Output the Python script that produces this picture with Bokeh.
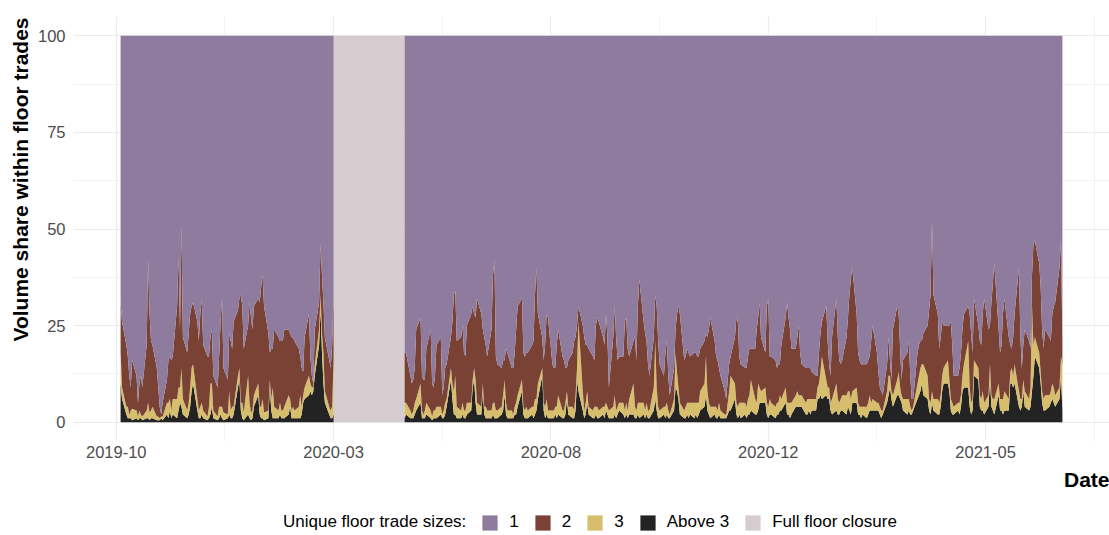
import numpy as np
import pandas as pd
from bokeh.plotting import figure
from bokeh.layouts import column
from bokeh.models import (ColumnDataSource, FixedTicker, DatetimeTickFormatter, Range1d,
                          Legend, LegendItem, Title)
from bokeh.embed import file_html
from bokeh.resources import INLINE

FONT = "Liberation Sans"

# ---------------- data ----------------
# floor trading days before the closure (business days from pre_start)
pre_start = "2019-10-10"
pre_above3 = [10, 6, 2, 1, 1, 1, 0.5, 1, 0.5, 1,
              1, 0.5, 1, 1, 0.5, 1, 1, 0.5, 0.5, 0.5,
              1, 0.5, 2, 1, 3, 1, 2, 1, 3, 5,
              4, 2, 1, 2, 4, 8, 10, 3, 1, 1,
              2, 1, 0.5, 1, 2, 4, 1, 0.5, 1, 2,
              1, 0.5, 1, 2, 1, 1, 2, 9, 11, 3,
              1, 0.5, 2, 1, 0.5, 1, 4, 7, 2, 1,
              1, 0.5, 1, 9, 3, 1, 1, 1, 2, 1,
              1, 1, 2, 4, 1, 1, 1, 1, 1, 2,
              5, 6, 7, 8, 7, 8, 12, 20, 29, 18,
              10, 5, 2, 1, 1, 2]
pre_three = [8, 3, 2, 3, 1, 2, 3, 2, 1, 2,
             1, 1, 2, 4, 2, 2, 3, 1, 1, 0.5,
             0.5, 1, 3, 4, 3, 2, 4, 5, 6, 4,
             10, 4, 2, 3, 5, 6, 5, 3, 2, 3,
             3, 2, 1, 3, 8, 6, 2, 1, 3, 2,
             3, 2, 1, 6, 2, 3, 2, 3, 3, 2,
             4, 2, 10, 4, 2, 2, 3, 3, 2, 3,
             5, 2, 2, 2, 3, 8, 3, 2, 3, 2,
             2, 3, 5, 2, 2, 3, 2, 3, 6, 2,
             2, 3, 5, 2, 2, 1, 3, 4, 4, 5,
             8, 3, 2, 2, 3, 14]
pre_two = [13, 17, 16, 13, 10, 6, 12.5, 9, 3.5, 7,
           10, 7.5, 17, 37, 25.5, 18, 16, 12.5, 7.5, 3,
           0.5, 3.5, 6, 11, 11, 13, 11, 24, 34, 15,
           37, 16, 15, 18, 19, 16, 16, 20, 18, 24,
           27, 17, 15.5, 13, 12, 14, 9, 7.5, 13, 22,
           28, 11.5, 9, 15, 18, 15, 22, 17, 18, 28,
           25, 16.5, 13, 26, 24.5, 21, 23, 22, 27, 31,
           32, 27.5, 20, 7, 13, 10, 20, 19, 16, 18,
           18, 20, 17, 17, 19, 18, 18, 15, 10, 10,
           6, 13, 16, 7, 3, 1, 9, 7, 13, 15,
           13, 14, 12, 11, 16, 17]

# floor trading days after the reopening
post_start = "2020-04-23"
post_above3 = [1, 2, 1, 1, 1, 2, 3, 5, 1, 1,
               1, 2, 1, 0.5, 1, 1, 1, 2, 1, 1,
               2, 4, 11, 6, 2, 2, 1, 1, 2, 1,
               1, 2, 3, 9, 11, 5, 2, 2, 8, 2,
               1, 1, 1, 2, 1, 1, 1, 2, 3, 7,
               2, 1, 1, 1, 2, 2, 4, 8, 2, 1,
               1, 1, 2, 1, 2, 3, 6, 12, 3, 1,
               2, 1, 1, 1, 2, 1, 2, 1, 1, 2,
               6, 2, 1, 1, 3, 11, 8, 3, 1, 2,
               5, 2, 1, 1, 2, 1, 1, 2, 1, 3,
               2, 1, 1, 2, 1, 2, 3, 2,
               1, 2, 1, 2, 2, 1, 1, 2, 1, 2,
               1, 2, 1, 1, 3, 6, 3, 1, 1, 2,
               1, 2, 1, 1, 3, 9, 8, 6, 2, 1,
               1, 2, 1, 2, 1, 2, 1, 2, 3, 4,
               7, 3, 2, 1, 2, 1, 1, 2, 1, 1,
               1, 2, 3, 3, 6, 2, 1, 2, 1, 2,
               1, 2, 2, 3, 2, 2, 3, 5, 5, 5,
               2, 1, 2, 2, 1, 2, 2, 3, 3, 5,
               2, 2, 1, 2, 4, 4, 4, 4, 4, 2,
               2, 3, 2, 3, 3, 6, 6, 7, 6, 7,
               6, 6, 3, 2, 3, 2, 2, 3,
               3, 2, 4, 3, 2, 5, 5, 2, 2, 1,
               2, 1, 2, 3, 3, 3, 3, 3, 2, 1,
               2, 5, 7, 9, 6, 4, 7, 7, 6, 5,
               3, 2, 3, 2, 2, 3, 6, 7, 8, 10,
               7, 6, 3, 2, 5, 3, 2, 2, 4, 8,
               10, 10, 8, 3, 2, 2, 3, 2, 4, 8,
               9, 9, 4, 2, 3, 12, 11, 4, 3, 3,
               2, 4, 11, 4, 3, 2, 7, 3, 3, 2,
               3, 3, 10, 10, 9, 10, 4, 3, 4, 8,
               4, 3, 4, 8, 12, 17, 14, 10, 5, 3,
               3, 4, 5, 6, 5, 4, 6, 12, 3]
post_three = [4, 3, 2, 1, 2, 3, 3, 5, 2, 1,
              2, 3, 2, 1, 2, 2, 3, 2, 1, 2,
              3, 2, 3, 4, 6, 10, 3, 2, 3, 2,
              2, 3, 2, 2, 3, 6, 3, 2, 2, 2,
              3, 2, 2, 3, 4, 2, 2, 2, 4, 4,
              3, 2, 2, 1, 2, 3, 3, 3, 2, 2,
              3, 2, 2, 3, 4, 3, 4, 2, 2, 3,
              4, 2, 2, 2, 2, 3, 5, 2, 2, 3,
              2, 2, 3, 2, 4, 3, 18, 5, 2, 3,
              3, 2, 2, 3, 2, 3, 2, 2, 3, 2,
              2, 2, 3, 5, 2, 2, 2, 3,
              2, 3, 2, 4, 8, 3, 2, 3, 4, 3,
              2, 3, 2, 2, 6, 15, 6, 3, 2, 2,
              3, 3, 2, 1, 3, 9, 5, 3, 3, 2,
              3, 3, 4, 3, 4, 3, 4, 3, 5, 6,
              10, 5, 3, 3, 2, 3, 2, 3, 2, 1,
              1, 3, 5, 9, 4, 3, 3, 3, 4, 3,
              3, 4, 5, 8, 4, 3, 7, 4, 3, 4,
              3, 3, 4, 3, 3, 3, 3, 4, 3, 4,
              3, 3, 4, 3, 3, 4, 3, 3, 3, 3,
              4, 3, 4, 3, 3, 3, 4, 6, 11, 4,
              3, 3, 2, 4, 7, 4, 3, 3,
              4, 5, 4, 5, 4, 3, 4, 3, 2, 3,
              2, 3, 3, 4, 2, 3, 2, 2, 2, 2,
              1, 3, 5, 3, 2, 3, 4, 6, 3, 2,
              3, 4, 3, 2, 1, 1, 4, 5, 6, 5,
              8, 6, 3, 3, 3, 3, 4, 3, 3, 4,
              4, 6, 3, 3, 3, 2, 2, 3, 3, 4,
              6, 12, 5, 3, 3, 4, 3, 3, 3, 5,
              3, 3, 4, 3, 3, 4, 3, 3, 3, 4,
              5, 3, 3, 4, 3, 5, 4, 3, 2, 3,
              4, 3, 5, 22, 8, 5, 4, 3, 3, 3,
              4, 3, 3, 4, 4, 3, 3, 5, 12]
post_two = [13, 13, 9, 8, 8, 9, 18, 17, 9, 9,
            8, 14, 21, 8.5, 6, 9, 16, 18, 5, 6,
            9, 9, 8, 16, 25, 22, 17, 19, 20, 15,
            14, 20, 23, 19, 14, 16, 27, 24, 14, 18,
            16, 14, 21, 33, 37, 14, 12, 10, 9, 5,
            14, 15, 11, 12, 14, 19, 23, 21, 14, 14,
            14, 15, 16, 17, 27, 34, 18, 8, 11, 16,
            22, 24, 12, 11, 10, 16, 17, 14, 13, 9,
            6, 12, 14, 18, 15, 11, 4, 17, 19, 15,
            12, 15, 14, 12, 21, 23, 23, 18, 16, 23,
            18, 6, 18, 23, 19, 12, 12, 12,
            23, 22, 16, 11, 11, 18, 13, 25, 32, 21,
            20, 16, 12, 9, 13, 12, 21, 17, 12, 8,
            14, 16, 9, 5, 8, 6, 15, 21, 23, 13,
            13, 14, 13, 12, 13, 13, 12, 12, 11, 11,
            6, 14, 19, 23, 17, 13, 13, 9, 9, 6,
            4, 6, 7, 5, 12, 22, 22, 12, 10, 9,
            10, 11, 12, 8, 13, 19, 17, 22, 14, 9,
            25, 28, 11, 12, 12, 9, 10, 8, 14, 18,
            26, 22, 19, 14, 12, 14, 18, 11, 8, 9,
            8, 8, 8, 7, 6, 3, 8, 10, 9, 19,
            12, 6, 7, 16, 22, 16, 11, 9,
            9, 15, 19, 25, 31, 32, 19, 13, 12, 11,
            11, 11, 11, 10, 16, 19, 13, 8, 5, 5,
            4, 7, 10, 4, 3, 17, 19, 15, 10, 4,
            10, 12, 15, 8, 3, 2, 8, 8, 7, 6,
            8, 13, 23, 28, 44, 27, 22, 14, 15, 14,
            11, 9, 14, 20, 15, 8, 7, 9, 11, 12,
            13, 9, 19, 18, 12, 16, 11, 14, 14, 20,
            27, 17, 10, 24, 30, 35, 14, 12, 14, 22,
            24, 16, 7, 5, 10, 13, 32, 16, 8, 9,
            16, 15, 10, 8, 26, 25, 23, 22, 16, 13,
            17, 15, 13, 18, 21, 24, 31, 30, 6]

closure_start = "2020-03-05"
closure_end = "2020-04-23"

x_tick_dates = ["2019-10-07", "2020-03-05", "2020-08-02", "2020-12-30", "2021-05-29"]
y_ticks = [0, 25, 50, 75, 100]
y_minor_ticks = [12.5, 37.5, 62.5, 87.5]

y_title = "Volume share within floor trades"
x_title = "Date"
legend_title = "Unique floor trade sizes:"
legend_labels = ["1", "2", "3", "Above 3", "Full floor closure"]
colors = {"1": "#8E7B9E", "2": "#7A4234", "3": "#D6BE6C", "Above 3": "#232323",
          "Full floor closure": "#D6CBCF"}


def segment(start, above3, three, two):
    n = min(len(above3), len(three), len(two))
    a3 = np.array(above3[:n], dtype=float)
    t3 = np.array(three[:n], dtype=float)
    t2 = np.array(two[:n], dtype=float)
    one = 100.0 - a3 - t3 - t2
    dates = pd.bdate_range(start, periods=n).values
    return ColumnDataSource(dict(date=dates, above3=a3, three=t3, two=t2, one=one))


pre_src = segment(pre_start, pre_above3, pre_three, pre_two)
post_src = segment(post_start, post_above3, post_three, post_two)

first = pd.Timestamp(pre_start)
last = pd.Timestamp(post_src.data["date"][-1])
span = last - first
x_range = Range1d(first - 0.05 * span, last + 0.05 * span)

W = 1109
p = figure(width=W, height=510, x_axis_type="datetime", output_backend="svg",
           toolbar_location=None, x_range=x_range, y_range=Range1d(-5, 105),
           min_border_left=73, min_border_right=0, min_border_top=16, min_border_bottom=69,
           background_fill_color="white", border_fill_color="white",
           outline_line_color=None)

clo_src = ColumnDataSource(dict(left=pd.to_datetime([closure_start]).values,
                                right=pd.to_datetime([closure_end]).values,
                                bottom=[0], top=[100]))
p.quad(left="left", right="right", bottom="bottom", top="top", source=clo_src,
       fill_color=colors["Full floor closure"], line_color=None)

stack_cols = ["above3", "three", "two", "one"]
stack_colors = [colors["Above 3"], colors["3"], colors["2"], colors["1"]]
p.varea_stack(stackers=stack_cols, x="date", color=stack_colors, source=pre_src)
p.varea_stack(stackers=stack_cols, x="date", color=stack_colors, source=post_src)

# ---------------- axes ----------------
major_ms = [pd.Timestamp(t).value / 1e6 for t in x_tick_dates]
step = major_ms[1] - major_ms[0]
minor_ms = [major_ms[0] - step / 2] + [m + step / 2 for m in major_ms]
xticker = FixedTicker(ticks=major_ms, minor_ticks=minor_ms)
yticker = FixedTicker(ticks=y_ticks, minor_ticks=y_minor_ticks)
p.xaxis.ticker = xticker
p.yaxis.ticker = yticker
p.xgrid.ticker = xticker
p.ygrid.ticker = yticker

fmt = "%Y-%m"
p.xaxis.formatter = DatetimeTickFormatter(
    microseconds=fmt, milliseconds=fmt, seconds=fmt, minsec=fmt, minutes=fmt,
    hourmin=fmt, hours=fmt, days=fmt, months=fmt, years=fmt)

for ax in (p.xaxis[0], p.yaxis[0]):
    ax.axis_line_color = None
    ax.major_tick_line_color = None
    ax.minor_tick_line_color = None
    ax.major_tick_out = 0
    ax.major_label_text_font = FONT
    ax.major_label_text_font_size = "16.5px"
    ax.major_label_text_color = "#4D4D4D"

p.xaxis.major_label_standoff = 0
p.yaxis.major_label_standoff = 4

for g in (p.xgrid[0], p.ygrid[0]):
    g.grid_line_color = "#EBEBEB"
    g.grid_line_width = 1.2
    g.minor_grid_line_color = "#EBEBEB"
    g.minor_grid_line_width = 0.6

ytitle = Title(text=y_title, align="right", text_font=FONT, text_font_size="21px",
               text_font_style="bold", text_color="black", offset=1, standoff=6)
p.add_layout(ytitle, "left")

date_title = Title(text=x_title, align="right", text_font=FONT, text_font_size="21px",
                   text_font_style="bold", text_color="black", offset=0, standoff=10)
p.add_layout(date_title, "below")

# ---------------- legend (separate strip below the chart) ----------------
lg = figure(width=W, height=25, output_backend="svg", toolbar_location=None,
            x_range=Range1d(0, 1), y_range=Range1d(0, 1),
            min_border_left=73, min_border_right=0, min_border_top=0, min_border_bottom=0,
            background_fill_color="white", border_fill_color="white",
            outline_line_color=None)
lg.axis.visible = False
lg.grid.visible = False

nan_row = dict(left=[np.nan], right=[np.nan], bottom=[np.nan], top=[np.nan])
items = [LegendItem(label=legend_title,
                    renderers=[lg.quad(source=ColumnDataSource(nan_row), left="left",
                                       right="right", bottom="bottom", top="top",
                                       fill_alpha=0, line_alpha=0)])]
for lab in legend_labels:
    r = lg.quad(source=ColumnDataSource(nan_row), left="left", right="right",
                bottom="bottom", top="top", fill_color=colors[lab], line_color=None)
    items.append(LegendItem(label=lab, renderers=[r]))

legend = Legend(items=items, orientation="horizontal", location=(181, 3),
                border_line_color=None, background_fill_alpha=0,
                label_text_font=FONT, label_text_font_size="17px",
                label_text_color="black", label_width=0,
                glyph_width=19, glyph_height=19, label_standoff=10, spacing=14,
                padding=0, margin=0)
lg.add_layout(legend, "center")

open("out.html", "w").write(file_html(column(p, lg, spacing=0), INLINE))
